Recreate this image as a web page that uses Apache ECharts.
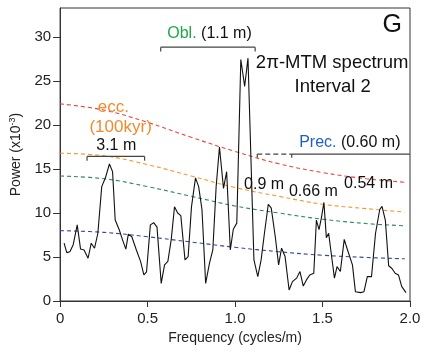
<!DOCTYPE html>
<html>
<head>
<meta charset="utf-8">
<script src="https://cdn.jsdelivr.net/npm/echarts@6/dist/echarts.min.js"></script>
<style>html,body{margin:0;padding:0;background:#fff}#c{width:427px;height:352px}</style>
</head>
<body>
<div id="c"></div>
<script>
// ---- data ----
const freq = [0.023,0.038,0.056,0.075,0.098,0.117,0.137,0.16,0.178,0.197,0.216,0.238,0.259,0.282,0.30,0.315,0.338,0.357,0.376,0.39,0.41,0.436,0.46,0.479,0.494,0.516,0.535,0.554,0.578,0.597,0.616,0.635,0.654,0.672,0.69,0.714,0.732,0.751,0.774,0.792,0.811,0.832,0.854,0.873,0.892,0.911,0.934,0.952,0.973,0.99,1.01,1.033,1.055,1.074,1.108,1.13,1.149,1.168,1.19,1.207,1.23,1.249,1.266,1.286,1.309,1.328,1.352,1.371,1.39,1.408,1.427,1.45,1.465,1.48,1.493,1.508,1.522,1.535,1.568,1.583,1.602,1.624,1.643,1.671,1.688,1.718,1.737,1.756,1.78,1.803,1.827,1.84,1.859,1.878,1.897,1.915,1.934,1.953,1.977];
const power = [6.57,5.5,5.6,6.4,8.65,5.9,5.8,4.86,6.57,6.0,7.7,13.0,14.0,15.57,14.7,9.2,8.1,6.95,5.9,7.6,7.3,5.8,4.5,2.96,3.3,8.65,8.9,8.4,2.0,4.1,4.5,6.95,10.7,10.0,9.7,4.67,5.05,10.7,14.0,13.0,10.4,2.0,4.3,5.8,13.0,17.5,12.8,14.7,5.8,8.15,8.85,27.45,24.4,27.6,4.67,2.77,4.67,7.7,11.0,10.55,7.3,4.1,6.0,5.05,1.25,2.2,2.6,3.35,1.7,2.4,2.96,3.15,9.2,8.1,9.4,11.2,7.2,7.7,2.6,3.9,3.35,7.0,5.8,4.1,1.06,0.95,1.06,2.77,2.77,7.7,10.4,10.75,9.2,4.0,3.7,3.15,2.96,1.63,0.95];

const confFreq = [0, 0.25, 0.5, 0.75, 1.0, 1.25, 1.5, 1.75, 1.97];
const conf99_9 = [22.4, 21.7, 20.3, 18.6, 17.0, 15.6, 14.6, 13.9, 13.5];
const conf99 = [16.8, 16.5, 15.5, 14.2, 12.9, 11.9, 11.0, 10.5, 10.1];
const conf95 = [14.2, 13.9, 13.0, 11.9, 10.8, 10.0, 9.3, 8.8, 8.55];
const conf50 = [8.0, 7.8, 7.3, 6.7, 6.1, 5.6, 5.2, 4.95, 4.8];

const xTicks = [0, 0.5, 1.0, 1.5, 2.0];
const yTicks = [0, 5, 10, 15, 20, 25, 30];

const FONT = 'Liberation Sans, Arial, Helvetica, sans-serif';
const chart = echarts.init(document.getElementById('c'), null, {renderer: 'canvas'});

function pairs(xs, ys) { return xs.map((x, i) => [x, ys[i]]); }
function dashSeries(vals, color) {
  return {
    type: 'line', data: pairs(confFreq, vals), smooth: 0.4, symbol: 'none', silent: true,
    lineStyle: {color: color, width: 1.1, type: [4, 3]}, z: 2
  };
}

chart.setOption({
  animation: false,
  grid: {left: 55, right: 17, top: 8, bottom: 51, show: true, borderColor: '#333', borderWidth: 1},
  xAxis: {
    type: 'value', min: 0, max: 2, interval: 0.5,
    name: 'Frequency (cycles/m)', nameLocation: 'middle', nameGap: 28,
    nameTextStyle: {fontFamily: FONT, fontSize: 14, color: '#222'},
    axisLine: {lineStyle: {color: '#333', width: 1}},
    axisTick: {show: true, length: 6, lineStyle: {color: '#333'}},
    axisLabel: {fontFamily: FONT, fontSize: 15, color: '#222', margin: 10,
      formatter: v => (v === 0 ? '0' : v.toFixed(1))},
    splitLine: {show: false}
  },
  yAxis: {
    type: 'value', min: 0, max: 33.3,
    name: '{a|Power (x10}{s|-3}{a|)}', nameLocation: 'middle', nameGap: 29,
    nameTextStyle: {fontFamily: FONT, fontSize: 14, color: '#222',
      rich: {a: {fontFamily: FONT, fontSize: 14, color: '#222'},
             s: {fontFamily: FONT, fontSize: 9, color: '#222', verticalAlign: 'top', padding: [0, 0, 8, 0]}}},
    axisLine: {show: true, lineStyle: {color: '#333', width: 1}},
    axisTick: {show: true, length: 7, lineStyle: {color: '#333'}, customValues: yTicks},
    axisLabel: {fontFamily: FONT, fontSize: 15, color: '#222', margin: 9, customValues: yTicks},
    splitLine: {show: false}
  },
  series: [
    dashSeries(conf99_9, '#e8453c'),
    dashSeries(conf99, '#f29a2e'),
    dashSeries(conf95, '#2f8a5c'),
    dashSeries(conf50, '#3a4896'),
    {type: 'line', data: pairs(freq, power), symbol: 'none', smooth: false,
     lineStyle: {color: '#111', width: 1.1}, z: 3}
  ]
});

// ---- annotations (placed in data coordinates) ----
const P = (x, y) => chart.convertToPixel({gridIndex: 0}, [x, y]);
const g = [];
function txt(x, y, t, opts) {
  const p = P(x, y);
  g.push({type: 'text', x: p[0], y: p[1], z: 10, style: Object.assign({
    text: t, fontFamily: FONT, fontSize: 16, fill: '#111', align: 'center', verticalAlign: 'middle'}, opts || {})});
}
function seg(x1, y1, x2, y2, dash) {
  const a = P(x1, y1), b = P(x2, y2);
  g.push({type: 'line', z: 10, shape: {x1: a[0], y1: a[1], x2: b[0], y2: b[1]},
    style: {stroke: '#444', lineWidth: 1.2, lineDash: dash || null}});
}
function bracket(x1, x2, y, yb) {
  seg(x1, y, x2, y); seg(x1, y, x1, yb); seg(x2, y, x2, yb);
}
// Obl.
txt(0.854, 30.4, '{g|Obl.} (1.1 m)', {rich: {g: {fill: '#22a64a', fontFamily: FONT, fontSize: 16}}});
bracket(0.575, 1.115, 28.85, 28.36);
// title
txt(1.555, 27.1, '2π-MTM spectrum', {fontSize: 18.5});
txt(1.558, 24.35, 'Interval 2', {fontSize: 18.5});
txt(1.899, 31.3, 'G', {fontSize: 25});
// Prec.
txt(1.656, 18.0, '{b|Prec.} (0.60 m)', {rich: {b: {fill: '#1f5fbf', fontFamily: FONT, fontSize: 16}}});
seg(1.127, 16.7, 1.324, 16.7, [5, 3]);
seg(1.324, 16.7, 2.0, 16.7);
seg(1.127, 16.7, 1.127, 16.29);
seg(1.324, 16.7, 1.324, 16.29);
// ecc.
txt(0.304, 22.0, 'ecc.', {fill: '#f08a2e', fontSize: 17});
txt(0.346, 19.7, '(100kyr)', {fill: '#f08a2e', fontSize: 17});
txt(0.321, 17.65, '3.1 m', {fontSize: 16});
bracket(0.154, 0.483, 16.43, 15.95);
// period labels
txt(1.166, 13.2, '0.9 m');
txt(1.448, 12.4, '0.66 m');
txt(1.763, 13.3, '0.54 m');

chart.setOption({graphic: g});
</script>
</body>
</html>
